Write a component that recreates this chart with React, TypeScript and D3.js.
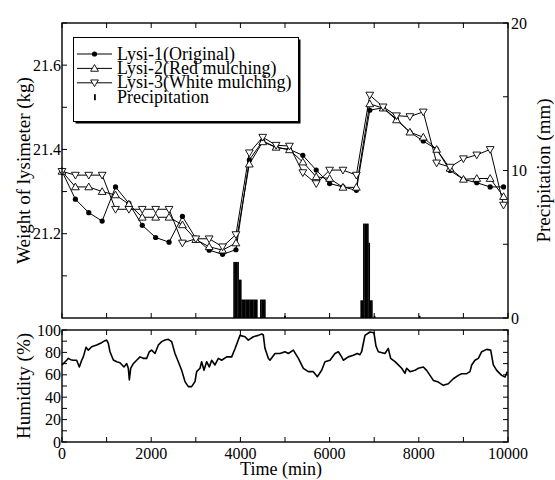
import React from "react";
import * as d3 from "d3";

// lysimeter readings every 300 min
const lysiTime = [
  0, 300, 600, 900, 1200, 1500, 1800, 2100, 2400, 2700, 3000, 3300, 3600, 3900,
  4200, 4500, 4800, 5100, 5400, 5700, 6000, 6300, 6600, 6900, 7200, 7500, 7800,
  8100, 8400, 8700, 9000, 9300, 9600, 9900,
];
const lysi1 = [
  21.348, 21.282, 21.25, 21.23, 21.311, 21.272, 21.22, 21.191, 21.18, 21.241,
  21.189, 21.161, 21.151, 21.162, 21.375, 21.42, 21.405, 21.4, 21.386, 21.351,
  21.319, 21.311, 21.303, 21.493, 21.499, 21.472, 21.441, 21.42, 21.4, 21.35,
  21.329, 21.321, 21.311, 21.311,
];
const lysi2 = [
  21.348, 21.311, 21.311, 21.3, 21.292, 21.27, 21.239, 21.239, 21.239, 21.221,
  21.186, 21.169, 21.161, 21.178, 21.365, 21.418, 21.405, 21.399, 21.37, 21.335,
  21.331, 21.31, 21.31, 21.508, 21.498, 21.47, 21.441, 21.429, 21.4, 21.355,
  21.329, 21.331, 21.331, 21.288,
];
const lysi3 = [
  21.348, 21.339, 21.339, 21.339, 21.258, 21.258, 21.258, 21.258, 21.258,
  21.178, 21.188, 21.188, 21.169, 21.198, 21.392, 21.429, 21.41, 21.408, 21.345,
  21.319, 21.351, 21.351, 21.339, 21.529, 21.501, 21.48, 21.478, 21.489, 21.368,
  21.358, 21.378, 21.387, 21.4, 21.268,
];

// precipitation, 30 min bins (start time, mm)
const precipTime = [
  3840, 3870, 3900, 3930, 3960, 3990, 4020, 4050, 4080, 4110, 4140, 4170, 4200,
  4230, 4260, 4290, 4320, 4350, 4440, 4470, 4500, 4530, 4980,
  6690, 6720, 6750, 6780, 6810, 6840, 6870, 6900, 6930, 6990, 8000,
];
const precipValue = [
  3.8, 3.8, 3.8, 3.8, 2.6, 2.6, 1.25, 1.25, 1.25, 1.25, 1.25, 1.25, 1.25,
  1.25, 1.25, 1.25, 1.25, 1.25, 1.25, 1.25, 1.25, 1.25, 0.15,
  1.2, 1.2, 6.4, 6.4, 6.4, 6.4, 5.1, 1.2, 1.2, 0.15, 0.15,
];
const precipBin = 30;

// relative humidity trace
const humTime = [
  0, 30, 105, 142, 194, 254, 329, 389, 441, 478, 538, 590, 665, 777, 889, 964,
  1001, 1039, 1076, 1151, 1226, 1300, 1390, 1450, 1487, 1510, 1540, 1599, 1674,
  1749, 1823, 1898, 1958, 2010, 2085, 2160, 2235, 2309, 2384, 2459, 2533, 2608,
  2683, 2758, 2832, 2907, 2982, 3019, 3094, 3131, 3184, 3243, 3303, 3356, 3430,
  3505, 3580, 3692, 3804, 3879, 3991, 4103, 4177, 4290, 4402, 4477, 4514, 4551,
  4626, 4663, 4776, 4888, 5000, 5075, 5187, 5300, 5411, 5523, 5635, 5725, 5822,
  5896, 6009, 6121, 6196, 6270, 6308, 6420, 6532, 6621, 6681, 6718, 6793, 6905,
  6995, 7040, 7092, 7242, 7316, 7369, 7466, 7541, 7616, 7690, 7728, 7802, 7915,
  7989, 8101, 8176, 8251, 8326, 8438, 8550, 8662, 8774, 8886, 8961, 9073, 9148,
  9185, 9260, 9335, 9410, 9522, 9612, 9671, 9746, 9858, 9933, 9986,
];
const humValue = [
  68.8, 70, 73, 74.7, 73.5, 73, 73, 67, 73, 76, 84.5, 82, 85, 86.6, 88.7, 90.5,
  91, 88, 80.6, 73.2, 71.7, 70.8, 67, 70, 65.8, 55.4, 65.8, 70, 73, 76, 74.7,
  74.7, 80.6, 82, 79, 86.6, 89.6, 91, 91.7, 89.6, 79, 71.7, 64, 53.9, 49.4, 49.4,
  54, 62.8, 65.8, 71.7, 64, 71.7, 67, 73, 68.8, 74.7, 73, 76, 76, 83.3, 95.2, 94,
  91, 94, 95.2, 96.4, 95.5, 83.6, 74.7, 73, 79, 79, 80.6, 79, 82, 74.7, 65.8,
  62.8, 62.8, 58.3, 64, 71.7, 73, 79, 80.6, 76, 73, 76, 77.4, 79, 78, 80.6, 95.2,
  98.2, 97.5, 85.7, 80.6, 79, 83.6, 74.7, 71.7, 68.8, 65.8, 61.3, 65.8, 62.8, 64,
  65.8, 67, 64, 59.5, 55, 53.5, 50.6, 52, 56.5, 59.5, 61, 61, 62.8, 68.8, 73,
  74.7, 80.6, 82.7, 82, 68.8, 64, 59.5, 58, 62.8,
];

const legendItems = [
  "Lysi-1(Original)",
  "Lysi-2(Red mulching)",
  "Lysi-3(White mulching)",
  "Precipitation",
];

const FONT = "Liberation Serif";

export default function App() {
  const left = 62, right = 508;
  const topY0 = 23, topY1 = 318;
  const botY0 = 330, botY1 = 442;
  const tick = 5;

  const x = d3.scaleLinear().domain([0, 10000]).range([left, right]);
  const yW = d3.scaleLinear().domain([21.0, 21.7]).range([topY1, topY0]);
  const yP = d3.scaleLinear().domain([0, 20]).range([topY1, topY0]);
  const yH = d3.scaleLinear().domain([0, 100]).range([botY1, botY0]);

  const series = [lysi1, lysi2, lysi3];
  const lineGen = (vals: number[]) =>
    d3.line<number>().x((_, i) => x(lysiTime[i])).y((d) => yW(d))(vals) || "";
  const humLine =
    d3.line<number>().x((_, i) => x(humTime[i])).y((d) => yH(d))(humValue) || "";

  const tri = d3.symbol().type(d3.symbolTriangle).size(26)() || "";

  const marker = (k: number, cx: number, cy: number, key: string) => {
    if (k === 0) return <circle key={key} cx={cx} cy={cy} r={2.6} fill="#000" />;
    return (
      <path
        key={key}
        d={tri}
        transform={`translate(${cx},${cy + (k === 1 ? 0.6 : -0.6)})${k === 2 ? " rotate(180)" : ""}`}
        fill="#fff"
        stroke="#000"
        strokeWidth={0.9}
      />
    );
  };

  const xTicks = d3.range(0, 10001, 1000);
  const xLabels = x.ticks(5);
  const txt = { fontFamily: FONT };

  return (
    <svg
      width={555}
      height={480}
      style={{ position: "absolute", left: 0, top: 0, background: "#fff" }}
    >
      <rect width={555} height={480} fill="#fff" />

      {/* precipitation bars */}
      {precipTime.map((t, i) => (
        <rect
          key={"p" + i}
          x={x(t)}
          y={yP(precipValue[i])}
          width={x(t + precipBin) - x(t) + 0.3}
          height={yP(0) - yP(precipValue[i])}
          fill="#000"
        />
      ))}

      {/* lysimeter lines */}
      {series.map((s, k) => (
        <path key={"l" + k} d={lineGen(s)} fill="none" stroke="#000" strokeWidth={1} />
      ))}
      {series.map((s, k) =>
        s.map((v, i) => marker(k, x(lysiTime[i]), yW(v), `m${k}-${i}`))
      )}

      {/* top panel frame */}
      <rect x={left} y={topY0} width={right - left} height={topY1 - topY0} fill="none" stroke="#000" strokeWidth={1.4} />
      {xTicks.map((t) => (
        <g key={"tx" + t}>
          <line x1={x(t)} x2={x(t)} y1={topY0} y2={topY0 + tick} stroke="#000" />
          <line x1={x(t)} x2={x(t)} y1={topY1} y2={topY1 - tick} stroke="#000" />
          <line x1={x(t)} x2={x(t)} y1={botY0} y2={botY0 + tick} stroke="#000" />
          <line x1={x(t)} x2={x(t)} y1={botY1} y2={botY1 - tick} stroke="#000" />
        </g>
      ))}
      {d3.range(21.1, 21.75, 0.1).map((v) => (
        <line key={"wy" + v} x1={left} x2={left + tick} y1={yW(v)} y2={yW(v)} stroke="#000" />
      ))}
      {[21.2, 21.4, 21.6].map((v) => (
        <text key={"wl" + v} style={txt} x={left - 1} y={yW(v) + 5.5} fontSize={16} textAnchor="end">
          {v.toFixed(1)}
        </text>
      ))}
      {[0, 5, 10, 15, 20].map((v) => (
        <line key={"py" + v} x1={right} x2={right - tick} y1={yP(v)} y2={yP(v)} stroke="#000" />
      ))}
      {[0, 10, 20].map((v) => (
        <text key={"pl" + v} style={txt} x={right + 3} y={yP(v) + 5.5} fontSize={16}>
          {v}
        </text>
      ))}

      {/* humidity panel */}
      <path d={humLine} fill="none" stroke="#000" strokeWidth={1.6} strokeLinejoin="round" />
      <rect x={left} y={botY0} width={right - left} height={botY1 - botY0} fill="none" stroke="#000" strokeWidth={1.4} />
      {d3.range(0, 101, 10).map((v) => (
        <g key={"hy" + v}>
          <line x1={left} x2={left + tick} y1={yH(v)} y2={yH(v)} stroke="#000" />
          <line x1={right} x2={right - tick} y1={yH(v)} y2={yH(v)} stroke="#000" />
        </g>
      ))}
      {yH.ticks(5).map((v) => (
        <text key={"hl" + v} style={txt} x={left - 1} y={yH(v) + 5.5} fontSize={16} textAnchor="end">
          {v}
        </text>
      ))}
      {xLabels.map((t) => (
        <text key={"xl" + t} style={txt} x={x(t)} y={botY1 + 17} fontSize={16} textAnchor="middle">
          {t}
        </text>
      ))}

      {/* axis titles */}
      <text style={txt} x={281} y={475} fontSize={18} textAnchor="middle">Time (min)</text>
      <text style={txt} transform={`translate(30,${(topY0 + topY1) / 2}) rotate(-90)`} fontSize={19} textAnchor="middle">
        Weight of lysimeter (kg)
      </text>
      <text style={txt} transform={`translate(550,${(topY0 + topY1) / 2}) rotate(-90)`} fontSize={19} textAnchor="middle">
        Precipitation (mm)
      </text>
      <text style={txt} transform={`translate(30,${(botY0 + botY1) / 2}) rotate(-90)`} fontSize={19} textAnchor="middle">
        Humidity (%)
      </text>

      {/* legend */}
      <rect x={75.5} y={39.5} width={225} height={84} fill="#000" />
      <rect x={73.5} y={37.5} width={225} height={84} fill="#fff" stroke="#000" strokeWidth={1} />
      {legendItems.map((name, i) => {
        const cy = 54 + i * 14.4;
        return (
          <g key={"lg" + i}>
            {i < 3 ? (
              <>
                <line x1={77} x2={112} y1={cy} y2={cy} stroke="#000" />
                {marker(i, 94.5, cy, "lm" + i)}
              </>
            ) : (
              <rect x={94} y={cy - 3} width={1.8} height={6} fill="#000" />
            )}
            <text style={txt} x={117} y={cy + 5.5} fontSize={18}>
              {name}
            </text>
          </g>
        );
      })}
    </svg>
  );
}
